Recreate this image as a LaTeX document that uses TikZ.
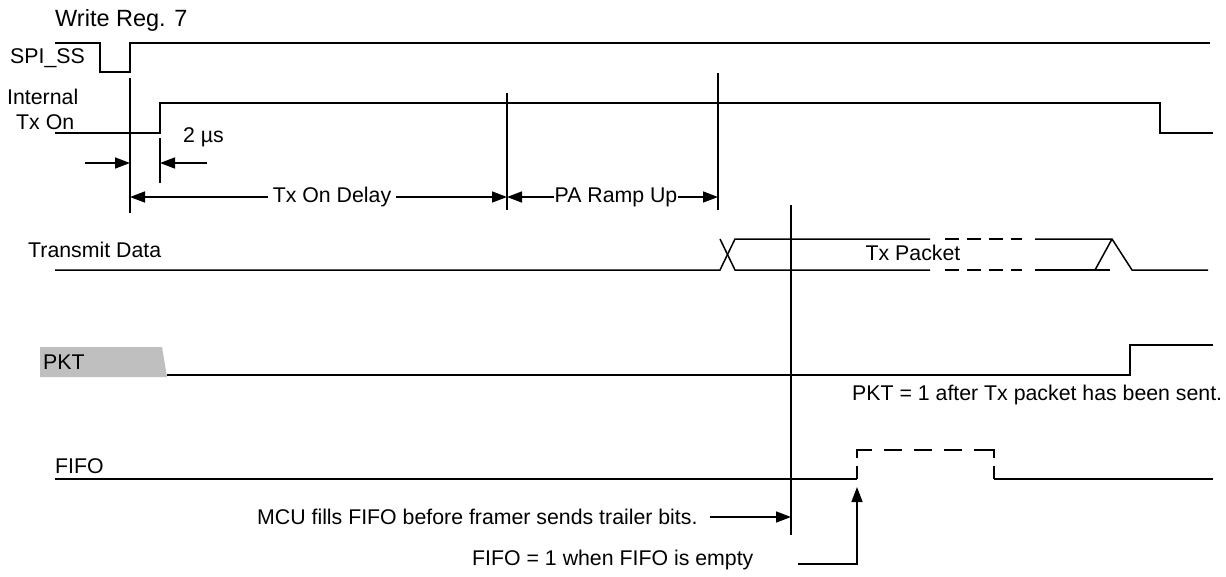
\documentclass[tikz,border=0pt]{standalone}
\usepackage{fontspec}
\setmainfont{Liberation Sans}
\usetikzlibrary{arrows.meta}
\begin{document}
\begin{tikzpicture}[x=1pt,y=-1pt,
  sig/.style={line width=1.5pt},
  dsig/.style={line width=2.7pt, dash pattern=on 14pt off 8pt},
  fsig/.style={line width=2.7pt},
  lbl/.style={font=\fontsize{21.3}{25}\selectfont, inner sep=0pt, anchor=west},
  arr/.style={line width=1.5pt, -{Triangle[length=15pt,width=11pt]}},
  darr/.style={line width=1.5pt, {Triangle[length=15pt,width=11pt]}-{Triangle[length=15pt,width=11pt]}}]
\useasboundingbox (0,0) rectangle (1226,576);
% labels
\node[lbl,font=\fontsize{23.5}{27}\selectfont] (wr) at (55,20) {Write Reg. 7};
\node[lbl] (spi) at (10,58) {SPI\_SS};
\node[lbl] (int) at (7,97) {Internal};
\node[lbl] (txon) at (16,122) {Tx On};
\node[lbl] (two) at (183,137) {2 µs};
\node[lbl] (td) at (28,250) {Transmit Data};
\node[lbl,anchor=center] (txp) at (913,253) {Tx Packet};
\fill[gray!50] (40,347) -- (162,347) -- (167,377) -- (40,377) -- cycle;
\node[lbl] (pkt) at (43,362) {PKT};
\node[lbl] (pktn) at (852,395) {PKT = 1 after Tx packet has been sent.};
\node[lbl] (fifo) at (55,466) {FIFO};
\node[lbl] (mcu) at (257,517) {MCU fills FIFO before framer sends trailer bits.};
\node[lbl] (fifon) at (472,560) {FIFO = 1 when FIFO is empty};
% SPI_SS
\draw[sig] (55,43) -- (100,43) -- (100,72) -- (130,72) -- (130,43) -- (1210,43);
% Internal Tx On
\draw[sig] (55,133) -- (160,133) -- (160,103) -- (1160,103) -- (1160,133) -- (1213,133);
% vertical markers
\coordinate (v1t) at (130,78); \coordinate (v1b) at (130,213);
\coordinate (v2t) at (507,93); \coordinate (v2b) at (507,210);
\coordinate (v3t) at (718,73); \coordinate (v3b) at (718,210);
\coordinate (v4t) at (791,205); \coordinate (v4b) at (791,535);
\draw[sig] (v1t) -- (v1b);
\draw[sig] (v2t) -- (v2b);
\draw[sig] (v3t) -- (v3b);
\draw[sig] (v4t) -- (v4b);
\draw[sig] (160,138) -- (160,183);
% 2 us arrows
\coordinate (a1s) at (85,163); \coordinate (a1e) at (130,163);
\coordinate (a2s) at (207,163); \coordinate (a2e) at (160,163);
\draw[arr] (a1s) -- (a1e);
\draw[arr] (a2s) -- (a2e);
% delay arrows
\coordinate (d1) at (130,197); \coordinate (d2) at (507,197); \coordinate (d3) at (718,197);
\draw[darr] (d1) -- (d2);
\draw[darr] (d2) -- (d3);
\node[lbl,anchor=center,fill=white,inner xsep=5pt,inner ysep=2pt] (tod) at (332,197) {Tx On Delay};
\node[lbl,anchor=center,fill=white,inner xsep=0.5pt,inner ysep=2pt] (par) at (616,197) {PA Ramp Up};
% Transmit data
\draw[sig] (55,270) -- (720,270) -- (735,239) -- (930,239);
\draw[sig] (720,239) -- (735,270) -- (930,270);
\draw[dsig] (945,239) -- (1022,239);
\draw[dsig] (945,270) -- (1022,270);
\draw[sig] (1035,239) -- (1112,239) -- (1132,270) -- (1208,270);
\draw[sig] (1035,270) -- (1110,270);
\draw[sig] (1095,270) -- (1112,239);
% PKT
\draw[sig] (167,375) -- (1130,375) -- (1130,345) -- (1213,345);
% FIFO
\draw[sig] (55,479) -- (857,479);
\draw[fsig] (857,479) -- (857,466);
\draw[fsig] (857,458) -- (857,450) -- (872,450);
\draw[fsig] (884,450) -- (902,450);
\draw[fsig] (914,450) -- (932,450);
\draw[fsig] (944,450) -- (962,450);
\draw[fsig] (974,450) -- (994,450) -- (994,458);
\draw[fsig] (994,466) -- (994,479);
\draw[sig] (994,479) -- (1213,479);
% annotation arrows
\coordinate (m1) at (710,517); \coordinate (m2) at (791,517);
\draw[arr] (m1) -- (m2);
\coordinate (f1) at (798,564); \coordinate (f2) at (857,564); \coordinate (f3) at (857,487);
\draw[arr] (f1) -- (f2) -- (f3);
\end{tikzpicture}
\end{document}
